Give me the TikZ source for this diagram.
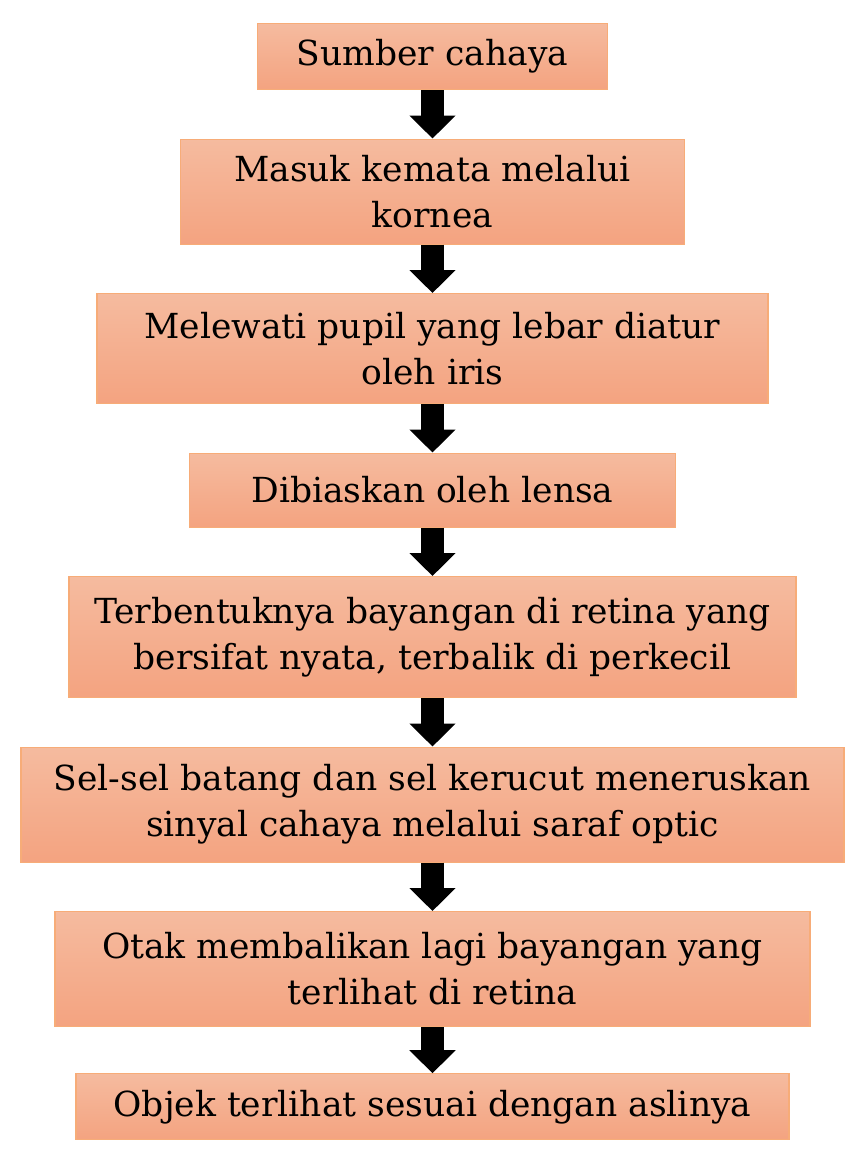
\documentclass[tikz,border=0pt]{standalone}
\usepackage{fontspec}
\setmainfont{DejaVu Serif}
\usetikzlibrary{positioning, arrows.meta}
\definecolor{boxtop}{HTML}{F5BB9F}
\definecolor{boxbot}{HTML}{F4A380}
\definecolor{boxline}{HTML}{F7AC78}

\tikzset{
  stepbox/.style={rectangle, draw=boxline, line width=1.2pt, top color=boxtop, bottom color=boxbot,
    align=center, inner sep=0pt, font=\fontsize{34.5}{46}\selectfont},
  flow/.style={line width=23pt, -{Triangle[width=45pt,length=23pt]}}
}

\begin{document}
\begin{tikzpicture}[node distance=48.3pt]
    \useasboundingbox (0,0) rectangle (860pt,-1164pt);

      \node[stepbox, anchor=north, minimum width=350pt, minimum height=66pt]  (s_1) at (432.5pt,-23pt) {Sumber cahaya};
      \node[stepbox, minimum width=504pt, minimum height=105pt] (s_2) [below=of s_1] {Masuk kemata melalui\\kornea};
      \node[stepbox, minimum width=671pt, minimum height=110pt] (s_3) [below=of s_2] {Melewati pupil yang lebar diatur\\oleh iris};
      \node[stepbox, minimum width=486pt, minimum height=74pt]  (s_4) [below=of s_3] {Dibiaskan oleh lensa};
      \node[stepbox, minimum width=727pt, minimum height=121pt] (s_5) [below=of s_4] {Terbentuknya bayangan di retina yang\\bersifat nyata, terbalik di perkecil};
      \node[stepbox, minimum width=823pt, minimum height=115pt] (s_6) [below=of s_5] {Sel-sel batang dan sel kerucut meneruskan\\sinyal cahaya melalui saraf optic};
      \node[stepbox, minimum width=755pt, minimum height=115pt] (s_7) [below=of s_6] {Otak membalikan lagi bayangan yang\\terlihat di retina};
      \node[stepbox, minimum width=713pt, minimum height=66pt]  (s_8) [below=46pt of s_7] {Objek terlihat sesuai dengan aslinya};

      \path[flow] (s_1) edge (s_2)
                  (s_2) edge (s_3)
                  (s_3) edge (s_4)
                  (s_4) edge (s_5)
                  (s_5) edge (s_6)
                  (s_6) edge (s_7)
                  (s_7) edge (s_8);
    \end{tikzpicture}
\end{document}
